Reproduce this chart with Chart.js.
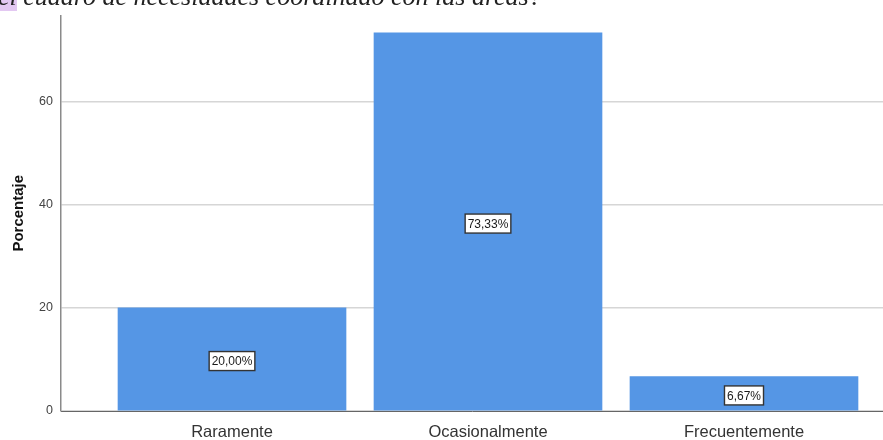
<!DOCTYPE html>
<html>
<head>
<meta charset="utf-8">
<script src="https://cdn.jsdelivr.net/npm/chart.js@4"></script>
<style>
    html, body { margin: 0; padding: 0; background: #fff; overflow: hidden; }
    #wrap { position: relative; width: 883px; height: 440px; }
    #caption {
        position: absolute; left: -2px; top: -16px; white-space: nowrap;
        font-family: "Liberation Serif", serif; font-style: italic; font-size: 26px;
        line-height: 26px; color: #222;
    }
    #caption span { background: #e3c8f2; }
    canvas { position: absolute; left: 0; top: 0; }
</style>
</head>
<body>
<div id="wrap">
    <canvas id="grafica" width="883" height="440"></canvas>
    <div id="caption"><span>el</span> cuadro de necesidades coordinado con las áreas?</div>
</div>
<script>
const categorias = ['Raramente', 'Ocasionalmente', 'Frecuentemente'];
const porcentajes = [20.00, 73.33, 6.67];
const etiquetas = ['20,00%', '73,33%', '6,67%'];
const ticksY = [0, 20, 40, 60];

// cajas con el porcentaje en el centro de cada barra
const etiquetasBarras = {
    id: 'etiquetasBarras',
    afterDatasetsDraw(chart) {
        const ctx = chart.ctx;
        const meta = chart.getDatasetMeta(0);
        ctx.save();
        ctx.font = '12px "Liberation Sans", Arial, sans-serif';
        ctx.textAlign = 'center';
        ctx.textBaseline = 'middle';
        meta.data.forEach(function (bar, i) {
            const txt = etiquetas[i];
            const x = bar.x;
            const y = (bar.y + bar.base) / 2 + 2;
            const w = ctx.measureText(txt).width + 5;
            const h = 19;
            ctx.fillStyle = '#ffffff';
            ctx.fillRect(x - w / 2, y - h / 2, w, h);
            ctx.strokeStyle = '#333333';
            ctx.lineWidth = 1.4;
            ctx.strokeRect(x - w / 2, y - h / 2, w, h);
            ctx.fillStyle = '#1a1a1a';
            ctx.fillText(txt, x, y + 1);
        });
        ctx.restore();
    }
};

const $grafica = document.querySelector('#grafica');
new Chart($grafica, {
    type: 'bar',
    data: {
        datasets: [{
            data: porcentajes.map(function (v, i) { return { x: i, y: v }; }),
            backgroundColor: '#5596e5',
            borderWidth: 0,
            barThickness: 228
        }]
    },
    options: {
        responsive: false,
        animation: false,
        layout: { padding: { top: 5, right: 0, left: 0, bottom: 0 } },
        plugins: {
            legend: { display: false },
            tooltip: { enabled: false }
        },
        scales: {
            x: {
                type: 'linear',
                offset: false,
                min: -0.668,
                max: 2.543,
                afterBuildTicks: function (scale) {
                    scale.ticks = categorias.map(function (c, i) { return { value: i }; });
                },
                afterFit: function (scale) { scale.height = 29; },
                grid: { display: false, drawTicks: false, offset: false },
                border: { color: '#666666', width: 1 },
                ticks: {
                    padding: 12,
                    color: '#333333',
                    font: { family: '"Liberation Sans", Arial, sans-serif', size: 16.5 },
                    callback: function (v) { return categorias[v]; }
                }
            },
            y: {
                min: 0,
                max: 76.7,
                afterBuildTicks: function (scale) {
                    scale.ticks = ticksY.map(function (v) { return { value: v }; });
                },
                afterFit: function (scale) { scale.width = 61; },
                grid: { color: '#d6d6d6', lineWidth: 1.5, drawTicks: false },
                border: { color: '#8a8a8a', width: 1.5 },
                ticks: {
                    padding: 8,
                    color: '#444444',
                    font: { family: '"Liberation Sans", Arial, sans-serif', size: 12.5 }
                },
                title: {
                    display: true,
                    text: 'Porcentaje',
                    color: '#111111',
                    padding: { top: 10, bottom: 4 },
                    font: { family: '"Liberation Sans", Arial, sans-serif', size: 15, weight: 'bold' }
                }
            }
        }
    },
    plugins: [etiquetasBarras]
});
</script>
</body>
</html>
